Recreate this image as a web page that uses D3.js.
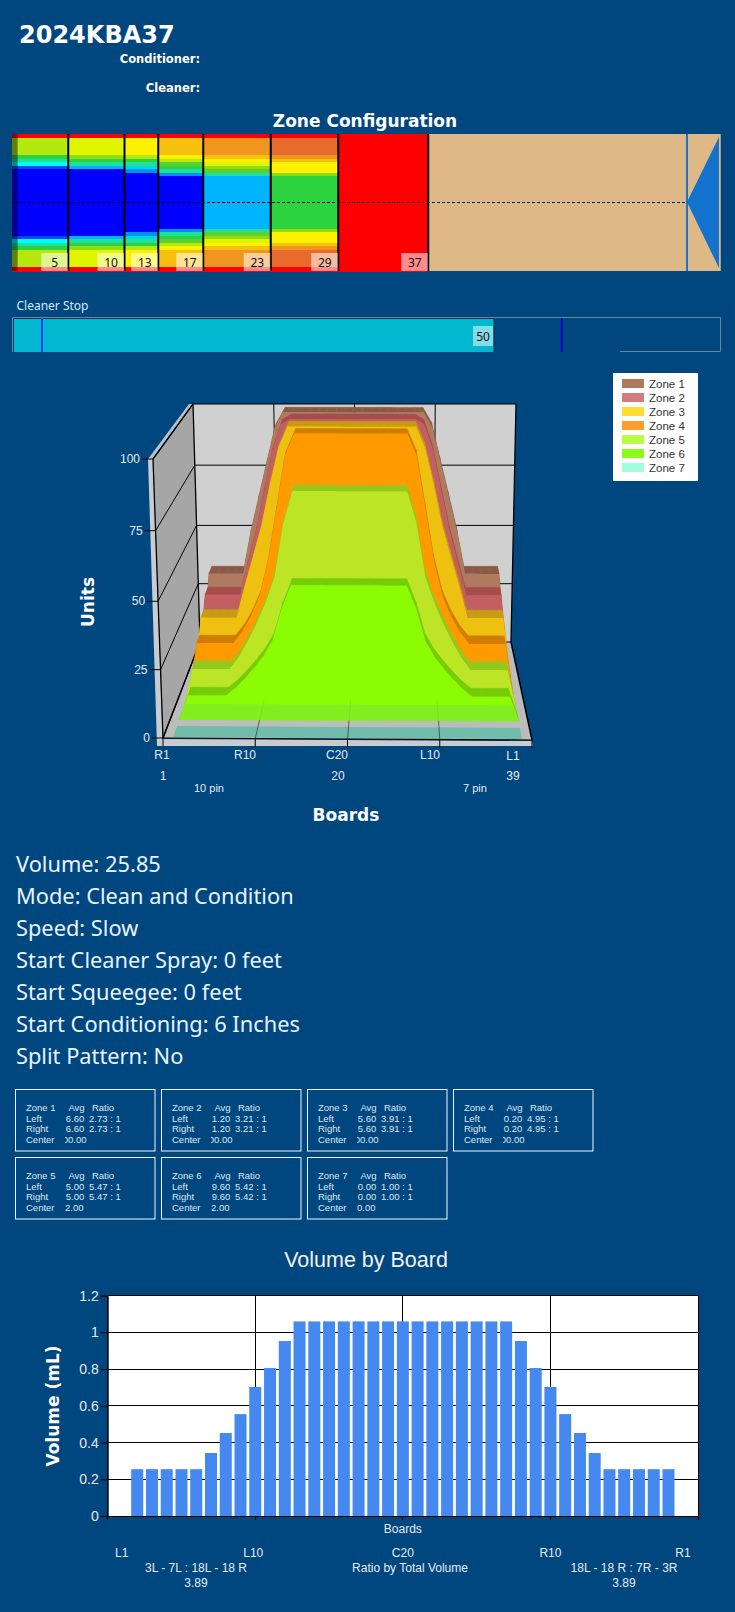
<!DOCTYPE html>
<html lang="en">
<head>
<meta charset="UTF-8" />
<title>2024KBA37</title>
<script src="https://cdn.jsdelivr.net/npm/d3@7"></script>
<style>
    html, body { margin: 0; padding: 0; background: #00467f; overflow: hidden; }
    svg { display: block; }
    text { font-family: "Liberation Sans", sans-serif; }
    .bold { font-family: "DejaVu Sans", sans-serif; font-weight: bold; fill: #fff; }
    .big { font-family: "Noto Sans", sans-serif; font-size: 21.8px; fill: #e8f4ff; }
    .lbl { fill: #e4ecf4; font-size: 12px; }
</style>
</head>
<body>
<script>
// pattern info
const patternName = "2024KBA37";
const zoneEnds = [5, 10, 13, 17, 23, 29, 37];
const startConditioningFeet = 0.5;
const foulFeet = 60;
const laneEndFeet = 63;
const cleanerStop = 50;
const cleanerMarks = [0, 57.5];
const infoLines = ["Volume: 25.85", "Mode: Clean and Condition", "Speed: Slow", "Start Cleaner Spray: 0 feet", "Start Squeegee: 0 feet", "Start Conditioning: 6 Inches", "Split Pattern: No"];

// oil level per board (boards 1 to 20, the other half is the mirror) for each zone
const heatZone1 = [16,10,10,10,10,10,7,6,5,1,0,0,0,0,0,0,0,0,0,0];
const heatZone2 = [16,11,11,11,11,11,9,7,6,3,0,0,0,0,0,0,0,0,0,0];
const heatZone3 = [16,12,12,12,12,12,10,7,6,4,2,0,0,0,0,0,0,0,0,0];
const heatZone4 = [16,13,13,13,13,13,12,10,8,7,6,2,0,0,0,0,0,0,0,0];
const heatZone5 = [16,14,14,14,14,14,13,12,11,9,8,6,3,3,3,3,3,3,3,3];
const heatZone6 = [16,15,15,15,15,15,14,13,12,12,12,9,7,7,7,7,7,7,7,7];
const heatZone7 = [16,16,16,16,16,16,16,16,16,16,16,16,16,16,16,16,16,16,16,16];
const heatColors = ["#0000ff","#0048ff","#0090f0","#00b4ff","#00d8e0","#00ffff","#20e0a0","#2dd23f","#5cd030","#90dc10","#b5e80f","#e0f500","#fff200","#f5c00f","#f09620","#e86a2c","#ff0000"];

// 3d chart units per board (boards 1 to 20, mirrored)
const unitsZone1 = [0,0,34.6,34.6,34.6,34.6,34.6,52,66,80,94,100,100,100,100,100,100,100,100,100];
const unitsZone2 = [0,0,30,30,30,30,30,43,56,72,88,98,100,100,100,100,100,100,100,100];
const unitsZone3 = [0,0,25.3,25.3,25.3,25.3,25.3,38,50,62,78,92,100,100,100,100,100,100,100,100];
const unitsZone4 = [0,0,19.6,19.6,19.6,19.6,19.6,24,30,38,52,72,92,100,100,100,100,100,100,100];
const unitsZone5 = [0,0,14.4,14.4,14.4,14.4,14.4,19,25,32,40,50,70,81.8,81.8,81.8,81.8,81.8,81.8,81.8];
const unitsZone6 = [0,0,9.2,9.2,9.2,9.2,9.2,12,15.5,19.5,24,30,42,50.8,50.8,50.8,50.8,50.8,50.8,50.8];
const zoneNames = ["Zone 1","Zone 2","Zone 3","Zone 4","Zone 5","Zone 6","Zone 7"];
const unitTicks = [0, 25, 50, 75, 100];

// zone tables
const zoneAvg = ["6.60","1.20","5.60","0.20","5.00","9.60","0.00"];
const zoneRatio = ["2.73 : 1","3.21 : 1","3.91 : 1","4.95 : 1","5.47 : 1","5.42 : 1","1.00 : 1"];
const zoneCenter = ["100.00","100.00","100.00","100.00","2.00","2.00","0.00"];

// volume by board
const barSlots = [2,3,4,5,6,7,8,9,10,11,12,13,14,15,16,17,18,19,20,21,22,23,24,25,26,27,28,29,30,31,32,33,34,35,36,37,38];
const barValues = [0.255,0.255,0.255,0.255,0.255,0.343,0.452,0.555,0.703,0.806,0.953,1.06,1.06,1.06,1.06,1.06,1.06,1.06,1.06,1.06,1.06,1.06,1.06,1.06,1.06,1.06,0.953,0.806,0.703,0.555,0.452,0.343,0.255,0.255,0.255,0.255,0.255];
const volumeTicks = [0, 0.2, 0.4, 0.6, 0.8, 1, 1.2];
const volumeSlotTicks = [0, 10, 20, 30, 40];
const volumeSlotLabels = ["L1", "L10", "C20", "R10", "R1"];

const mirror = half => half.concat(half.slice(0, -1).reverse());

const svg = d3.select("body").append("svg").attr("width", 735).attr("height", 1612);

// header
svg.append("text").attr("class", "bold").attr("x", 19).attr("y", 43).style("font-size", "24px").text(patternName);
svg.append("text").attr("class", "bold").attr("x", 200).attr("y", 63).attr("text-anchor", "end").style("font-size", "11.5px").text("Conditioner:");
svg.append("text").attr("class", "bold").attr("x", 200).attr("y", 92).attr("text-anchor", "end").style("font-size", "11.5px").text("Cleaner:");
svg.append("text").attr("class", "bold").attr("x", 365).attr("y", 127).attr("text-anchor", "middle").style("font-size", "17px").text("Zone Configuration");

// ---- zone configuration strip
const feetX = d3.scaleLinear([0, foulFeet], [12, 687]);
const boardY = d3.scaleBand(d3.range(1, 40), [134, 271]);
const heat = d3.scaleOrdinal(d3.range(heatColors.length), heatColors);
const heatZones = [heatZone1, heatZone2, heatZone3, heatZone4, heatZone5, heatZone6, heatZone7];

svg.append("rect").attr("x", feetX(0)).attr("y", 134).attr("width", feetX(laneEndFeet) - feetX(0)).attr("height", 137).attr("fill", "#deb887");

heatZones.forEach((levels, z) => {
    const from = z === 0 ? 0 : zoneEnds[z - 1];
    svg.append("g").selectAll("rect").data(mirror(levels)).enter().append("rect")
        .attr("x", feetX(from))
        .attr("y", (d, i) => boardY(i + 1))
        .attr("width", feetX(zoneEnds[z]) - feetX(from))
        .attr("height", boardY.bandwidth() + 0.5)
        .attr("shape-rendering", "crispEdges")
        .attr("fill", d => heat(d));
});

// part of the lane before conditioning starts
svg.append("rect").attr("x", feetX(0)).attr("y", 134).attr("width", feetX(startConditioningFeet) - feetX(0)).attr("height", 137).attr("fill", "#000").attr("opacity", 0.45);

svg.append("line").attr("x1", feetX(0)).attr("x2", feetX(foulFeet)).attr("y1", 202.5).attr("y2", 202.5)
    .attr("stroke", "#000").attr("stroke-dasharray", "3,2");

svg.append("g").selectAll("line").data(zoneEnds).enter().append("line")
    .attr("x1", d => feetX(d)).attr("x2", d => feetX(d)).attr("y1", 134).attr("y2", 271)
    .attr("stroke", "#000").attr("stroke-width", 2);

svg.append("g").selectAll("rect").data(zoneEnds).enter().append("rect")
    .attr("x", d => feetX(d) - 27).attr("y", 253).attr("width", 26.5).attr("height", 18)
    .attr("fill", "#fff").attr("opacity", 0.55);
svg.append("g").selectAll("text").data(zoneEnds).enter().append("text")
    .attr("x", d => feetX(d) - 13.5).attr("y", 266.5).attr("text-anchor", "middle")
    .style("font-family", "'Noto Sans'").style("font-size", "12px").attr("fill", "#111").text(d => d);

svg.append("line").attr("x1", feetX(foulFeet)).attr("x2", feetX(foulFeet)).attr("y1", 134).attr("y2", 271).attr("stroke", "#1a74c8").attr("stroke-width", 2);
svg.append("path").attr("d", d3.line()([[feetX(foulFeet), 202], [719, 137], [719, 268]]) + "Z").attr("fill", "#1272cc");

// ---- cleaner stop bar
const cleanerX = d3.scaleLinear([0, cleanerStop], [42, 494]);
svg.append("text").attr("x", 16.5).attr("y", 310).style("font-family", "'Noto Sans'").style("font-size", "12px").attr("fill", "#d8e8f8").text("Cleaner Stop");
svg.append("path").attr("d", "M12.5,352V317.5H720.5V351.5H620").attr("fill", "none").attr("stroke", "#6d86a0");
svg.append("rect").attr("x", 14).attr("y", 318).attr("width", cleanerX(cleanerStop) - 14).attr("height", 34).attr("fill", "#02b8d0");
svg.append("path").attr("d", `M14,318.5H${cleanerX(cleanerStop)}V352`).attr("fill", "none").attr("stroke", "#0a2a40");
svg.append("g").selectAll("line").data(cleanerMarks).enter().append("line")
    .attr("x1", d => cleanerX(d)).attr("x2", d => cleanerX(d)).attr("y1", 318).attr("y2", 352)
    .attr("stroke", (d, i) => i === 0 ? "#0040f0" : "#0000c8").attr("stroke-width", 2);
svg.append("rect").attr("x", cleanerX(cleanerStop) - 21).attr("y", 326).attr("width", 20).attr("height", 20).attr("fill", "#fff").attr("opacity", 0.5);
svg.append("text").attr("x", cleanerX(cleanerStop) - 11).attr("y", 340.5).attr("text-anchor", "middle")
    .style("font-family", "'Noto Sans'").style("font-size", "12px").attr("fill", "#111").text(cleanerStop);

// ---- 3d zone chart, board / units / depth go through a small projection
const leftBottom = d3.scaleLinear([0, 1], [163, 200]);
const leftTop = d3.scaleLinear([0, 1], [153, 193]);
const rightBottom = d3.scaleLinear([0, 1], [532, 511]);
const rightTop = d3.scaleLinear([0, 1], [542, 516]);
const floorY = d3.scaleLinear([0, 1], [738, 642]);
const topY = d3.scaleLinear([0, 1], [459, 404]);
const boardT = d3.scaleLinear([1, 39], [0, 1]);
const unitT = d3.scaleLinear(unitTicks, [0, 0.245, 0.49, 0.743, 1]);

function project(board, units, depth) {
    const t = boardT(board);
    const u = unitT(units);
    const xl = d3.interpolateNumber(leftBottom(depth), leftTop(depth))(u);
    const xr = d3.interpolateNumber(rightBottom(depth), rightTop(depth))(u);
    const y = d3.interpolateNumber(floorY(depth), topY(depth))(u);
    return [xl + (xr - xl) * t, y + 2 * t * (1 - depth)];
}
const poly = pts => d3.line()(pts) + "Z";
const chart3d = svg.append("g");

// base and walls
chart3d.append("path").attr("d", poly([[148, 459], [153, 459], [193, 404], [189, 404]])).attr("fill", "#b4c2ce");
chart3d.append("path").attr("d", poly([[148, 459], [153, 459], [163, 746], [157, 746]])).attr("fill", "#c8ccd0");
chart3d.append("path").attr("d", poly([project(1, 0, 0), project(1, 0, 1), project(1, 100, 1), project(1, 100, 0)])).attr("fill", "#a6a6a6");
chart3d.append("path").attr("d", poly([project(1, 0, 1), project(39, 0, 1), project(39, 100, 1), project(1, 100, 1)])).attr("fill", "#d0d0d0");
chart3d.append("path").attr("d", poly([project(1, 0, 0), project(39, 0, 0), project(39, 0, 1), project(1, 0, 1)])).attr("fill", "#bcbcbc");
chart3d.append("path").attr("d", poly([[157, 739], [532, 741], [533, 746], [158, 746]])).attr("fill", "#c8ccd0");

const gridLine = (a, b, w) => chart3d.append("line").attr("x1", a[0]).attr("y1", a[1]).attr("x2", b[0]).attr("y2", b[1]).attr("stroke", "#000").attr("stroke-width", w || 1);

unitTicks.forEach(u => {
    gridLine(project(1, u, 0), project(1, u, 1));
    gridLine(project(1, u, 1), project(39, u, 1));
});
[10.5, 20, 29.5].forEach(b => gridLine(project(b, 0, 1), project(b, 100, 1)));
gridLine(project(1, 0, 1), project(1, 100, 1), 1.3);
gridLine(project(1, 0, 0), project(1, 100, 0), 1.3);
gridLine(project(1, 100, 0), project(1, 100, 1), 1.3);
gridLine(project(39, 0, 1), project(39, 100, 1), 1.3);
gridLine(project(1, 0, 0), project(1, 0, 1), 1.5);
gridLine(project(39, 0, 0), project(39, 0, 1), 1.5);

// one face plus the darker top edge for every zone, back to front
const layerDepth = d3.scaleOrdinal(zoneNames, [0.85, 0.73, 0.60, 0.47, 0.33, 0.19, 0.01]);
const layerFace = d3.scaleOrdinal(zoneNames, ["#b07a5e", "#c25f62", "#eec010", "#ff9a00", "#bce625", "#8cfc05", "#72bcab"]);
const layerLip = d3.scaleOrdinal(zoneNames, ["#8b5a44", "#a64c4d", "#c89b10", "#cf7c00", "#93c81c", "#76cc08", "#72bcab"]);
const unitsZones = [unitsZone1, unitsZone2, unitsZone3, unitsZone4, unitsZone5, unitsZone6];
const lipDepth = 0.09;

unitsZones.forEach((half, z) => {
    const name = zoneNames[z];
    const d0 = layerDepth(name);
    const vals = mirror(half);
    const g = chart3d.append("g");
    d3.pairs(vals.map((v, i) => [i + 1, v])).filter(p => p[0][0] >= 2 && p[1][0] <= 38).forEach(p => {
        g.append("path")
            .attr("d", poly([project(p[0][0], p[0][1], d0), project(p[1][0], p[1][1], d0), project(p[1][0], p[1][1], d0 + lipDepth), project(p[0][0], p[0][1], d0 + lipDepth)]))
            .attr("fill", layerLip(name)).attr("stroke", layerLip(name)).attr("stroke-width", 0.5);
    });
    const face = vals.map((v, i) => project(i + 1, v, d0)).filter((p, i) => i >= 1 && i <= 37);
    g.append("path").attr("d", poly(face)).attr("fill", layerFace(name));
});

// zone 6 foot, slightly duller where it sits on the floor
const foot = [project(2, 0, 0.19), project(38, 0, 0.19), project(37.4, 6, 0.19), project(2.6, 6, 0.19)];
chart3d.append("path").attr("d", poly(foot)).attr("fill", "#82ee20");

// zone 7 has no height: only a strip on the floor
chart3d.append("path").attr("d", poly([project(2, 0, 0.01), project(38, 0, 0.01), project(38, 0, 0.125), project(2, 0, 0.125)])).attr("fill", layerFace("Zone 7"));

// faint floor lines over the layers, then axes
const boardTicks = [1, 10.5, 20, 29.5, 39];
[10.5, 20, 29.5].forEach(b => {
    gridLine(project(b, 0, 0), project(b, 0, 0.19), 0.8).attr("opacity", 0.6);
    gridLine(project(b, 0, 0.19), project(b, 0, 0.4), 0.8).attr("opacity", 0.08);
});
gridLine(project(1, 0, 0), project(39, 0, 0), 1.2);
boardTicks.forEach(b => {
    const p = project(b, 0, 0);
    gridLine(p, [p[0], p[1] + 8]);
});
unitTicks.forEach(u => {
    const p = project(1, u, 0);
    gridLine([p[0] - 11, p[1]], p);
    svg.append("text").attr("class", "lbl").attr("x", p[0] - 13).attr("y", p[1] + 4).attr("text-anchor", "end").text(u);
});

[["R1", 162, 759], ["R10", 245, 759], ["C20", 337, 759], ["L10", 430, 759], ["L1", 513, 760], ["1", 163, 780], ["20", 338, 780], ["39", 513, 780]].forEach(t => {
    svg.append("text").attr("class", "lbl").attr("x", t[1]).attr("y", t[2]).attr("text-anchor", "middle").text(t[0]);
});
[["10 pin", 209, 792], ["7 pin", 475, 792]].forEach(t => {
    svg.append("text").attr("class", "lbl").attr("x", t[1]).attr("y", t[2]).attr("text-anchor", "middle").style("font-size", "11px").text(t[0]);
});
svg.append("text").attr("class", "bold").attr("x", 346).attr("y", 821).attr("text-anchor", "middle").style("font-size", "17px").text("Boards");
svg.append("text").attr("class", "bold").attr("transform", "translate(94,602) rotate(-90)").attr("text-anchor", "middle").style("font-size", "17px").text("Units");

// legend
const legend = svg.append("g");
legend.append("rect").attr("x", 613).attr("y", 373).attr("width", 85).attr("height", 108).attr("fill", "#fff");
const legendColors = ["#b07a5e", "#d17c7e", "#ffdc33", "#ff9e2c", "#b8ff44", "#8cfc1e", "#a0ffe0"];
const legendY = d3.scaleLinear([0, 6], [379, 463]);
legend.selectAll("rect.k").data(zoneNames).enter().append("rect").attr("class", "k")
    .attr("x", 622).attr("y", (d, i) => legendY(i)).attr("width", 22).attr("height", 9).attr("fill", (d, i) => legendColors[i]);
legend.selectAll("text").data(zoneNames).enter().append("text")
    .attr("x", 649).attr("y", (d, i) => legendY(i) + 9).style("font-size", "11.5px").attr("fill", "#333").text(d => d);

// ---- info lines
svg.append("g").selectAll("text").data(infoLines).enter().append("text")
    .attr("class", "big").attr("x", 16).attr("y", (d, i) => 872 + i * 32).text(d => d);

// ---- zone tables
const boxX = d3.scaleLinear([0, 1], [15.5, 161.5]);
const boxY = d3.scaleLinear([0, 1], [1089.5, 1157.5]);
const defs = svg.append("defs");
zoneNames.forEach((name, i) => {
    const col = i < 4 ? i : i - 4;
    const row = i < 4 ? 0 : 1;
    const x0 = boxX(col);
    const y0 = boxY(row);
    const g = svg.append("g").attr("transform", `translate(${x0},${y0})`);
    g.append("rect").attr("width", 139.5).attr("height", 61.5).attr("fill", "none").attr("stroke", "#f0f8ff");
    const cell = (txt, x, y, anchor) => g.append("text").attr("x", x).attr("y", y).attr("text-anchor", anchor || "start")
        .style("font-size", "9.5px").attr("fill", "#dfe9f2").text(txt);
    cell(name, 10.5, 21);
    cell("Avg", 61, 21, "middle");
    cell("Ratio", 87.5, 21, "middle");
    cell("Left", 10.5, 32);
    cell(zoneAvg[i], 59.5, 32, "middle");
    cell(zoneRatio[i], 73.5, 32);
    cell("Right", 10.5, 42.5);
    cell(zoneAvg[i], 59.5, 42.5, "middle");
    cell(zoneRatio[i], 73.5, 42.5);
    cell("Center", 10.5, 53);
    // long center values are cut off by their cell in the app
    defs.append("clipPath").attr("id", "cc" + i).append("rect").attr("x", 49.5).attr("y", 40).attr("width", 40).attr("height", 18);
    cell(zoneCenter[i], zoneCenter[i].length > 4 ? 71 : 49.5, 53, zoneCenter[i].length > 4 ? "end" : "start").attr("clip-path", `url(#cc${i})`);
});

// ---- volume by board
const volX = d3.scaleLinear([0, 40], [107.7, 698]);
const volY = d3.scaleLinear([0, 1.2], [1516, 1295.7]);
const vol = svg.append("g");
vol.append("rect").attr("x", volX(0)).attr("y", volY(1.2)).attr("width", volX(40) - volX(0)).attr("height", volY(0) - volY(1.2)).attr("fill", "#fff");
vol.append("g").selectAll("line").data(volumeTicks).enter().append("line")
    .attr("x1", volX(0)).attr("x2", volX(40)).attr("y1", d => volY(d)).attr("y2", d => volY(d)).attr("stroke", "#000").attr("shape-rendering", "crispEdges");
vol.append("g").selectAll("line").data(volumeSlotTicks).enter().append("line")
    .attr("x1", d => volX(d)).attr("x2", d => volX(d)).attr("y1", volY(1.2)).attr("y2", volY(0) + 4).attr("stroke", "#000").attr("shape-rendering", "crispEdges");
vol.append("g").selectAll("rect").data(barValues).enter().append("rect")
    .attr("x", (d, i) => volX(barSlots[i]) - 6).attr("y", d => volY(d))
    .attr("width", 12).attr("height", d => volY(0) - volY(d)).attr("fill", "#4488f0");

const volAxis = vol.append("g").attr("transform", `translate(${volX(0)},0)`)
    .call(d3.axisLeft(volY).tickValues(volumeTicks).tickFormat(d => d).tickSize(7).tickPadding(2));
volAxis.select(".domain").attr("stroke", "#000");
volAxis.selectAll("line").attr("stroke", "#000");
volAxis.selectAll("text").style("font-size", "14px").style("font-family", "'Liberation Sans'").attr("fill", "#e8e8e8");

svg.append("text").attr("x", 366).attr("y", 1267).attr("text-anchor", "middle").style("font-size", "21.5px").attr("fill", "#f2f2f2").text("Volume by Board");
svg.append("text").attr("class", "bold").attr("transform", "translate(59,1406) rotate(-90)").attr("text-anchor", "middle").style("font-size", "17px").text("Volume (mL)");

svg.append("text").attr("class", "lbl").attr("x", volX(20)).attr("y", 1533).attr("text-anchor", "middle").text("Boards");
const volLabelX = [121.7, volX(10) - 2, volX(20), volX(30), 683];
volumeSlotLabels.forEach((l, i) => {
    svg.append("text").attr("class", "lbl").attr("x", volLabelX[i]).attr("y", 1557).attr("text-anchor", "middle").text(l);
});
[["3L - 7L : 18L - 18 R", 196, 1572], ["Ratio by Total Volume", 410, 1572], ["18L - 18 R : 7R - 3R", 624, 1572], ["3.89", 196, 1587], ["3.89", 624, 1587]].forEach(t => {
    svg.append("text").attr("class", "lbl").attr("x", t[1]).attr("y", t[2]).attr("text-anchor", "middle").text(t[0]);
});
</script>
</body>
</html>
